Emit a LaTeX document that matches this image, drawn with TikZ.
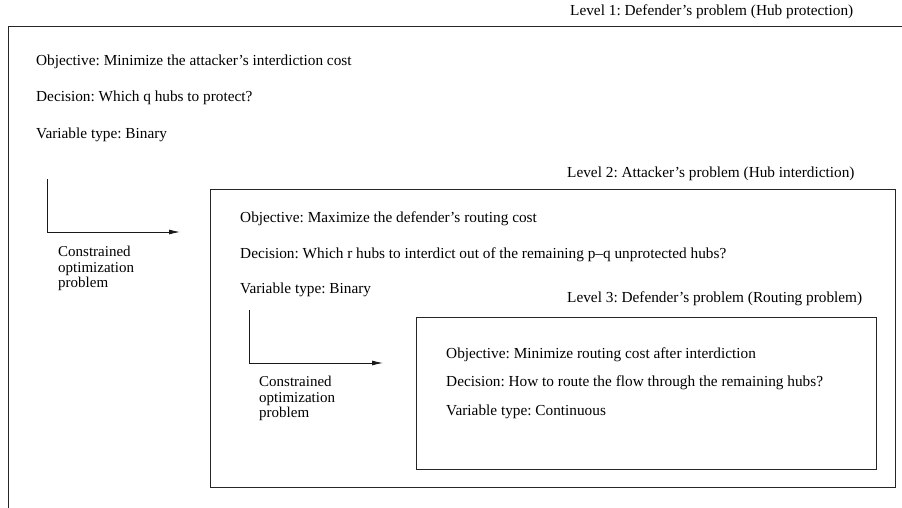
\documentclass[tikz,border=0pt]{standalone}
\usepackage{fontspec}
\setmainfont{Liberation Serif}
\usetikzlibrary{arrows.meta}
\frenchspacing
\begin{document}
\begin{tikzpicture}[x=1pt,y=-1pt,
  txt/.style={anchor=west,inner sep=0pt,font=\fontsize{15.3}{17}\selectfont},
  lbl/.style={anchor=north west,inner sep=0pt,align=left,font=\fontsize{15}{15.5}\selectfont},
  frame/.style={draw=black!85,line width=0.9pt},
  flow/.style={draw=black!90,line width=0.9pt,-{Latex[length=11pt,width=5pt]}}]
\useasboundingbox (0,0) rectangle (902,508);
% level 1 (cut off at right and bottom)
\draw[frame] (902,26) -- (8,26) -- (8,508);
\node[txt] (l1) at (570,12) {Level 1: Defender's problem (Hub protection)};
\node[txt] (o1) at (36,62) {Objective: Minimize the attacker's interdiction cost};
\node[txt] (d1) at (36,98) {Decision: Which q hubs to protect?};
\node[txt] (v1) at (36,135) {Variable type: Binary};
% level 2
\node[frame,draw,minimum width=685pt,minimum height=298pt,anchor=north west,inner sep=0pt] (b2) at (210,189) {};
\node[txt] (l2) at (567,174) {Level 2: Attacker's problem (Hub interdiction)};
\node[txt] (o2) at (240,219) {Objective: Maximize the defender's routing cost};
\node[txt] (d2) at (240,255) {Decision: Which r hubs to interdict out of the remaining p--q unprotected hubs?};
\node[txt] (v2) at (240,290) {Variable type: Binary};
% level 3
\node[frame,draw,minimum width=460pt,minimum height=152pt,anchor=north west,inner sep=0pt] (b3) at (416,317) {};
\node[txt] (l3) at (567,299) {Level 3: Defender's problem (Routing problem)};
\node[txt] (o3) at (446,355) {Objective: Minimize routing cost after interdiction};
\node[txt] (d3) at (446,383) {Decision: How to route the flow through the remaining hubs?};
\node[txt] (v3) at (446,412) {Variable type: Continuous};
% arrows
\coordinate (a1s) at (47,179);
\coordinate (a1e) at (180,232);
\draw[flow] (a1s) |- (a1e);
\node[lbl] (c1) at (58,246) {Constrained\\optimization\\problem};
\coordinate (a2s) at (249,310);
\coordinate (a2e) at (383,363);
\draw[flow] (a2s) |- (a2e);
\node[lbl] (c2) at (259,376) {Constrained\\optimization\\problem};
\end{tikzpicture}
\end{document}
